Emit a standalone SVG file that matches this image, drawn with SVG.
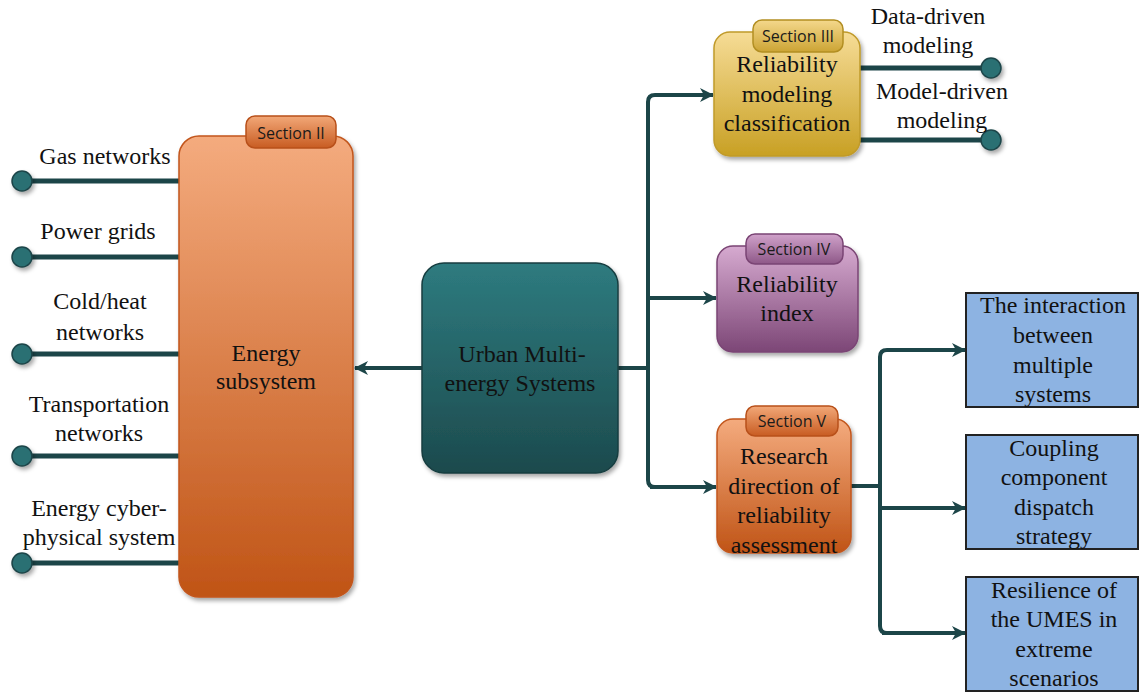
<svg xmlns="http://www.w3.org/2000/svg" width="1140" height="694" viewBox="0 0 1140 694">
<defs>
<linearGradient id="gOr" x1="0" y1="0" x2="0" y2="1"><stop offset="0" stop-color="#F4AB7E"/><stop offset="1" stop-color="#C05416"/></linearGradient>
<linearGradient id="gOrT" x1="0" y1="0" x2="0" y2="1"><stop offset="0" stop-color="#F2A878"/><stop offset="1" stop-color="#C85C22"/></linearGradient>
<linearGradient id="gTeal" x1="0" y1="0" x2="0" y2="1"><stop offset="0" stop-color="#2E7B7F"/><stop offset="1" stop-color="#1C4A4D"/></linearGradient>
<linearGradient id="gY" x1="0" y1="0" x2="0" y2="1"><stop offset="0" stop-color="#F6DC96"/><stop offset="1" stop-color="#C8A024"/></linearGradient>
<linearGradient id="gYT" x1="0" y1="0" x2="0" y2="1"><stop offset="0" stop-color="#F4D88C"/><stop offset="1" stop-color="#CCA434"/></linearGradient>
<linearGradient id="gP" x1="0" y1="0" x2="0" y2="1"><stop offset="0" stop-color="#D6AAD0"/><stop offset="1" stop-color="#7C4676"/></linearGradient>
<linearGradient id="gPT" x1="0" y1="0" x2="0" y2="1"><stop offset="0" stop-color="#D0A2CA"/><stop offset="1" stop-color="#8E5888"/></linearGradient>
<filter id="sh" x="-20%" y="-20%" width="140%" height="140%"><feDropShadow dx="2" dy="3" stdDeviation="2" flood-color="#000" flood-opacity="0.35"/></filter>
<marker id="ah" viewBox="0 0 14 14" refX="13" refY="7" markerWidth="14" markerHeight="14" markerUnits="userSpaceOnUse" orient="auto"><path d="M0,0 L14,7 L0,14 L4,7 Z" fill="#1C4548"/></marker>
</defs>
<style>
.t{font-family:'Liberation Serif','Tinos','Times New Roman','DejaVu Serif',serif;font-size:24px;fill:#111;text-anchor:middle}
.s{font-family:'Open Sans','Liberation Sans',Arial,sans-serif;font-size:16px;fill:#1a1a1a;text-anchor:middle}
.ln{stroke:#1C4548;stroke-width:5;fill:none}
.cn{stroke:#1C4548;stroke-width:4;fill:none;stroke-linejoin:round}
.dot{fill:#2B6F73;stroke:#1C4548;stroke-width:1.5}
.blue{fill:#8DB3E2;stroke:#222;stroke-width:2}
</style>

<g id="connectors">
<line class="ln" x1="22" y1="181" x2="183" y2="181"/>
<line class="ln" x1="22" y1="257" x2="186" y2="257"/>
<line class="ln" x1="22" y1="354" x2="183" y2="354"/>
<line class="ln" x1="22" y1="456" x2="182" y2="456"/>
<line class="ln" x1="22" y1="563" x2="182" y2="563"/>
<line class="ln" x1="857" y1="68" x2="991" y2="68"/>
<line class="ln" x1="857" y1="140" x2="991" y2="140"/>
<path class="cn" d="M424,368 L355,368" marker-end="url(#ah)"/>
<path class="cn" d="M618,368 L648,368"/>
<path class="cn" d="M716,487 L655,487 Q648,487 648,480 L648,102 Q648,95 655,95 L713,95" marker-end="url(#ah)"/>
<path class="cn" d="M650,487 L716,487" marker-end="url(#ah)"/>
<path class="cn" d="M648,298 L716,298" marker-end="url(#ah)"/>
<path class="cn" d="M851,486 L880,486"/>
<path class="cn" d="M965,633 L887,633 Q880,633 880,626 L880,357 Q880,350 887,350 L965,350" marker-end="url(#ah)"/>
<path class="cn" d="M882,633 L965,633" marker-end="url(#ah)"/>
<path class="cn" d="M880,508 L965,508" marker-end="url(#ah)"/>
</g>

<g id="dots" filter="url(#sh)">
<circle class="dot" cx="22" cy="181" r="10"/>
<circle class="dot" cx="22" cy="257" r="10"/>
<circle class="dot" cx="22" cy="354" r="10"/>
<circle class="dot" cx="22" cy="456" r="10"/>
<circle class="dot" cx="22" cy="563" r="10"/>
<circle class="dot" cx="991" cy="68" r="10"/>
<circle class="dot" cx="991" cy="140" r="10"/>
</g>

<g id="leaf-labels">
<text class="t" x="105" y="164">Gas networks</text>
<text class="t" x="98" y="239">Power grids</text>
<text class="t" x="100" y="309">Cold/heat</text>
<text class="t" x="100" y="340">networks</text>
<text class="t" x="99" y="412">Transportation</text>
<text class="t" x="99" y="441">networks</text>
<text class="t" x="99" y="516">Energy cyber-</text>
<text class="t" x="99" y="545">physical system</text>
<text class="t" x="928" y="24">Data-driven</text>
<text class="t" x="928" y="53">modeling</text>
<text class="t" x="942" y="99">Model-driven</text>
<text class="t" x="942" y="128">modeling</text>
</g>

<g id="energy-subsystem">
<rect x="179" y="136" width="174" height="461" rx="20" fill="url(#gOr)" stroke="#C2561C" stroke-width="1.5" filter="url(#sh)"/>
<rect x="246" y="116" width="90" height="32" rx="9" fill="url(#gOrT)" stroke="#B8501A" stroke-width="1.5"/>
<text class="s" x="291" y="139">Section II</text>
<text class="t" x="266" y="361">Energy</text>
<text class="t" x="266" y="389">subsystem</text>
</g>

<g id="umes">
<rect x="422" y="263" width="196" height="210" rx="22" fill="url(#gTeal)" stroke="#173E40" stroke-width="1.5" filter="url(#sh)"/>
<text class="t" x="522" y="362">Urban Multi-</text>
<text class="t" x="520" y="391">energy Systems</text>
</g>

<g id="reliability-modeling">
<rect x="714" y="32" width="146" height="124" rx="16" fill="url(#gY)" stroke="#C09A2A" stroke-width="1.5" filter="url(#sh)"/>
<rect x="753" y="20" width="90" height="32" rx="9" fill="url(#gYT)" stroke="#B28E22" stroke-width="1.5"/>
<text class="s" x="798" y="42">Section III</text>
<text class="t" x="787" y="72">Reliability</text>
<text class="t" x="787" y="102">modeling</text>
<text class="t" x="787" y="131">classification</text>
</g>

<g id="reliability-index">
<rect x="717" y="246" width="141" height="106" rx="16" fill="url(#gP)" stroke="#7A4474" stroke-width="1.5" filter="url(#sh)"/>
<rect x="746" y="234" width="97" height="30" rx="9" fill="url(#gPT)" stroke="#7A4474" stroke-width="1.5"/>
<text class="s" x="794" y="255">Section IV</text>
<text class="t" x="787" y="292">Reliability</text>
<text class="t" x="787" y="321">index</text>
</g>

<g id="research-direction">
<rect x="717" y="419" width="134" height="134" rx="16" fill="url(#gOr)" stroke="#C2561C" stroke-width="1.5" filter="url(#sh)"/>
<rect x="746" y="406" width="92" height="30" rx="9" fill="url(#gOrT)" stroke="#B8501A" stroke-width="1.5"/>
<text class="s" x="792" y="427">Section V</text>
<text class="t" x="784" y="464">Research</text>
<text class="t" x="784" y="494">direction of</text>
<text class="t" x="784" y="523">reliability</text>
<text class="t" x="784" y="553">assessment</text>
</g>

<g id="interaction">
<rect class="blue" x="966" y="293" width="172" height="114"/>
<text class="t" x="1053" y="313">The interaction</text>
<text class="t" x="1053" y="343">between</text>
<text class="t" x="1053" y="373">multiple</text>
<text class="t" x="1053" y="402">systems</text>
</g>

<g id="coupling">
<rect class="blue" x="966" y="435" width="172" height="114"/>
<text class="t" x="1054" y="456">Coupling</text>
<text class="t" x="1054" y="485">component</text>
<text class="t" x="1054" y="515">dispatch</text>
<text class="t" x="1054" y="544">strategy</text>
</g>

<g id="resilience">
<rect class="blue" x="966" y="577" width="172" height="114"/>
<text class="t" x="1054" y="598">Resilience of</text>
<text class="t" x="1054" y="627">the UMES in</text>
<text class="t" x="1054" y="657">extreme</text>
<text class="t" x="1054" y="686">scenarios</text>
</g>
</svg>
